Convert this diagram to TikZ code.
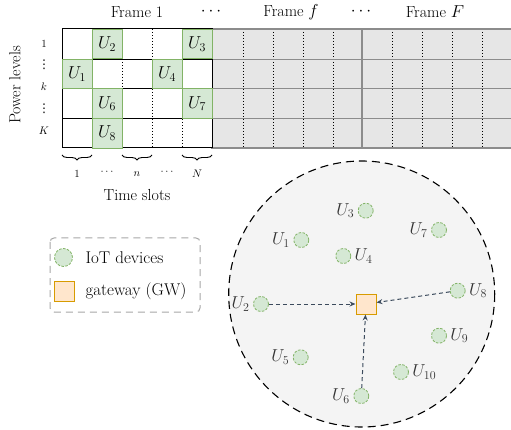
\documentclass[tikz,border=0pt]{standalone}
\usepackage{fontspec}
\newfontfamily\dejavu{DejaVu Sans}
\usetikzlibrary{decorations.pathreplacing,arrows.meta}
\definecolor{gfill}{HTML}{D5E8D4}
\definecolor{gdraw}{HTML}{82B366}
\definecolor{ofill}{HTML}{FFE6CC}
\definecolor{odraw}{HTML}{D79B00}
\definecolor{arr}{HTML}{3B4A5C}
\definecolor{zone}{HTML}{F4F4F4}
\definecolor{framegray}{HTML}{E6E6E6}
\definecolor{linegray}{HTML}{8C8C8C}
\definecolor{labgray}{HTML}{333333}
\begin{document}
\begin{tikzpicture}[x=1pt,y=-1pt,
  font=\fontsize{16}{19}\selectfont,
  cell/.style={draw=gdraw,fill=gfill,line width=0.9pt,minimum width=30pt,minimum height=29.75pt,inner sep=0pt,font=\fontsize{17}{20}\selectfont},
  dev/.style={circle,draw=gdraw,fill=gfill,line width=0.8pt,dash pattern=on 2.5pt off 1.5pt,minimum size=15pt,inner sep=0pt},
  gwbox/.style={draw=odraw,fill=ofill,line width=1pt,minimum size=20pt,inner sep=0pt},
  conn/.style={draw=arr,line width=1pt,dash pattern=on 4pt off 3pt,-{Stealth[length=6pt,width=5pt]}},
  small/.style={font=\fontsize{11}{13}\selectfont,inner sep=0pt},
  vdt/.style={font=\dejavu\fontsize{12}{13}\selectfont,inner sep=0pt},
  brc/.style={decorate,decoration={brace,mirror,amplitude=5pt},line width=0.9pt},
  vdash/.style={black,line width=0.5pt,dash pattern=on 1.5pt off 1.5pt},
  ulab/.style={label distance=0pt,text=labgray,font=\fontsize{17}{20}\selectfont}
]
\useasboundingbox (0,0) rectangle (511,430);

% gray frames
\fill[framegray] (212,29) rectangle (512,148);
\foreach \x in {243,273,303,333,392,422,452,482}
  \draw[vdash] (\x,29) -- (\x,148);
\foreach \y in {59,88.75,118.5}
  \draw[linegray,line width=0.9pt] (212,\y) -- (512,\y);
\draw[linegray,line width=1.2pt] (362,29) -- (362,148);
\draw[linegray,line width=1.2pt] (212,29) rectangle (512,148);

% frame 1
\fill[white] (62,29) rectangle (212,148);
\foreach \x in {92,122,152,182}
  \draw[vdash] (\x,29) -- (\x,148);
\foreach \y in {59,88.75,118.5}
  \draw[black,line width=0.7pt] (62,\y) -- (212,\y);
\draw[black,line width=1pt] (62,29) rectangle (212,148);

\node[cell] (c2) at (107,44) {$U_2$};
\node[cell] (c3) at (197,44) {$U_3$};
\node[cell] (c1) at (77,73.9) {$U_1$};
\node[cell] (c4) at (167,73.9) {$U_4$};
\node[cell] (c6) at (107,103.6) {$U_6$};
\node[cell] (c7) at (197,103.6) {$U_7$};
\node[cell] (c8) at (107,133.3) {$U_8$};

% top labels
\node (f1) at (137,12) {Frame 1};
\node (d1) at (211,12) {$\cdots$};
\node (ff) at (291,12) {Frame $f$};
\node (d2) at (361,12) {$\cdots$};
\node (fF) at (435,12) {Frame $F$};

% power levels
\node[rotate=90] (pl) at (15,85) {Power levels};
\node[small] (r1) at (44,44) {1};
\node[vdt] (r2) at (44,65) {⋮};
\node[small] (r3) at (44,87) {$k$};
\node[vdt] (r4) at (44,108.5) {⋮};
\node[small] (r5) at (44,131) {$K$};

% braces
\draw[brc] (62,155) -- (92,155);
\draw[brc] (122,155) -- (152,155);
\draw[brc] (182,155) -- (212,155);
\node[small] (t1) at (77,174) {1};
\node[small] (t2) at (107,172) {$\cdots$};
\node[small] (t3) at (137,174) {$n$};
\node[small] (t4) at (167,172) {$\cdots$};
\node[small] (t5) at (197,174) {$N$};
\node (ts) at (137,195) {Time slots};

% legend
\draw[gray!70,line width=1pt,dash pattern=on 7pt off 5pt,rounded corners=4pt] (50,238) rectangle (200,312);
\node[dev,minimum size=18pt] (ld) at (63.5,257.5) {};
\node[anchor=west,font=\fontsize{17}{20}\selectfont] (lt1) at (82,258) {IoT devices};
\node[gwbox] (lg) at (64.3,291) {};
\node[anchor=west,font=\fontsize{17}{20}\selectfont] (lt2) at (82,291) {gateway (GW)};

% coverage zone
\draw[black,fill=zone,line width=1.1pt,dash pattern=on 8pt off 5pt] (361.7,294) circle[radius=133];

\node[gwbox] (gw) at (366,304) {};
\node[dev,label={[ulab]left:$U_1$}] (u1) at (301.3,240) {};
\node[dev,label={[ulab]left:$U_2$}] (u2) at (261,304) {};
\node[dev,label={[ulab]left:$U_3$}] (u3) at (365.7,210.7) {};
\node[dev,label={[ulab]right:$U_4$}] (u4) at (343.3,256) {};
\node[dev,label={[ulab]left:$U_5$}] (u5) at (300.7,357.3) {};
\node[dev,label={[ulab]left:$U_6$}] (u6) at (361.3,396) {};
\node[dev,label={[ulab]left:$U_7$}] (u7) at (439,230) {};
\node[dev,label={[ulab]right:$U_8$}] (u8) at (457.7,290.7) {};
\node[dev,label={[ulab]right:$U_9$}] (u9) at (439,335.7) {};
\node[dev,label={[ulab]right:$U_{10}$}] (u10) at (401,372) {};

\draw[conn] (u2) -- (gw);
\draw[conn] (u8) -- (gw);
\draw[conn] (u6) -- (gw);
\end{tikzpicture}
\end{document}
